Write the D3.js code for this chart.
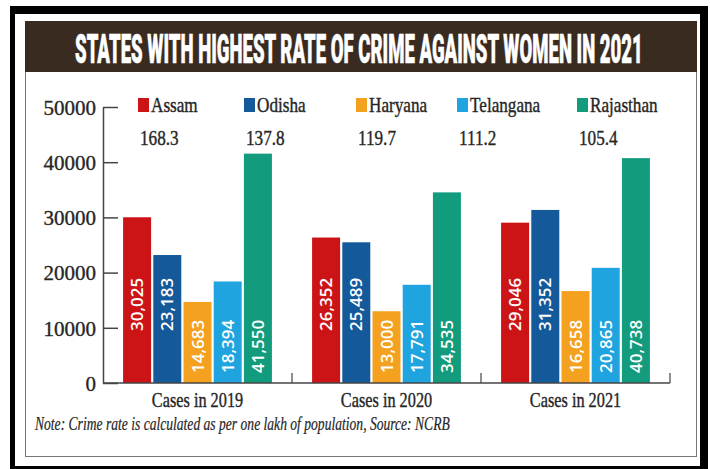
<!DOCTYPE html>
<html>
<head>
<meta charset="utf-8">
<script src="https://cdn.jsdelivr.net/npm/d3@7"></script>
<style>
  html, body { margin: 0; padding: 0; background: #fff; }
  svg { display: block; }
</style>
</head>
<body>
<svg id="chart" width="710" height="469"></svg>
<script>
// ---- data ----
const title = "STATES WITH HIGHEST RATE OF CRIME AGAINST WOMEN IN 2021";
const categories = ["Cases in 2019", "Cases in 2020", "Cases in 2021"];
const states = ["Assam", "Odisha", "Haryana", "Telangana", "Rajasthan"];
const crimeRates = ["168.3", "137.8", "119.7", "111.2", "105.4"];
const assam     = [30025, 26352, 29046];
const odisha    = [23183, 25489, 31352];
const haryana   = [14683, 13000, 16658];
const telangana = [18394, 17791, 20865];
const rajasthan = [41550, 34535, 40738];
const yTicks = [0, 10000, 20000, 30000, 40000, 50000];
const note = "Note: Crime rate is calculated as per one lakh of population, Source: NCRB";

// ---- styles ----
const colors = ["#cc1417", "#14599a", "#f4a11f", "#20a4df", "#129b7c"];
const serif = "'Liberation Serif', 'Times New Roman', serif";
const textColor = "#262626";

const series = [assam, odisha, haryana, telangana, rajasthan];
const svg = d3.select("#chart");

// frame
svg.append("rect").attr("x", 10).attr("y", 6).attr("width", 698).attr("height", 463).attr("fill", "#000");
svg.append("rect").attr("x", 15).attr("y", 14).attr("width", 685).attr("height", 452).attr("fill", "#fff");
svg.append("rect").attr("x", 25.5).attr("y", 21.5).attr("width", 671).attr("height", 435)
  .attr("fill", "none").attr("stroke", "#777").attr("stroke-width", 1);

// title bar
svg.append("rect").attr("x", 25).attr("y", 21).attr("width", 672).attr("height", 51).attr("fill", "#3a2b21");

// text squeezed horizontally to a target width (or by a factor)
function squeezed(parent, x, y, txt, opts = {}) {
  const g = parent.append("g");
  const t = g.append("text")
    .attr("font-family", opts.family || serif)
    .attr("font-size", opts.size || 20)
    .attr("fill", opts.fill || textColor)
    .attr("text-anchor", opts.anchor || "start")
    .text(txt);
  if (opts.italic) t.attr("font-style", "italic");
  if (opts.weight) t.attr("font-weight", opts.weight);
  if (opts.stroke) t.attr("stroke", opts.fill || textColor).attr("stroke-width", opts.stroke);
  let sx = opts.sx || 1;
  if (opts.width) sx = opts.width / t.node().getComputedTextLength();
  g.attr("transform", `translate(${x},${y}) scale(${sx},1)`);
  return t;
}

squeezed(svg, 359, 63, title, {
  family: "Roboto, 'Liberation Sans', sans-serif", weight: 900, size: 40,
  fill: "#fff", anchor: "middle", width: 568, stroke: 0.6
});

// scales
const y = d3.scaleLinear().domain([0, 50000]).range([383, 107]);
const x0 = d3.scaleBand().domain(categories).range([103, 670]).padding(0);
const x1 = d3.scaleBand().domain(states).range([0, x0.bandwidth()])
  .paddingInner(0.073).paddingOuter(0.665);
const color = d3.scaleOrdinal().domain(states).range(colors);

// y axis
const yAxis = svg.append("g").attr("transform", "translate(103,0)")
  .call(d3.axisLeft(y).tickValues(yTicks).tickSize(-15).tickSizeOuter(0).tickPadding(7).tickFormat(d3.format("d")));
yAxis.select(".domain").attr("stroke", "#444").attr("stroke-width", 1.5);
yAxis.selectAll(".tick line").attr("stroke", "#444").attr("stroke-width", 1.5);
yAxis.selectAll(".tick text")
  .attr("font-family", serif).attr("font-size", 21).attr("fill", textColor)
  .attr("stroke", textColor).attr("stroke-width", 0.35)
  .attr("dy", "0.35em");

// bars
const groups = svg.append("g").selectAll("g")
  .data(categories).join("g")
  .attr("transform", d => `translate(${x0(d)},0)`);

const barData = (c, ci) => states.map((s, si) => ({ state: s, cat: c, value: series[si][ci], si }));

groups.selectAll("rect")
  .data((c, ci) => barData(c, ci)).join("rect")
  .attr("x", d => x1(d.state))
  .attr("y", d => y(d.value))
  .attr("width", x1.bandwidth())
  .attr("height", d => y(0) - y(d.value))
  .attr("fill", d => color(d.state));

groups.selectAll("text.val")
  .data((c, ci) => barData(c, ci)).join("text")
  .attr("class", "val")
  .attr("transform", d => {
    const lift = d.si < 2 ? 52 : 10;
    return `translate(${x1(d.state) + x1.bandwidth() / 2},${y(0) - lift}) rotate(-90)`;
  })
  .attr("dy", "0.36em")
  .attr("font-family", "'Open Sans', sans-serif")
  .attr("font-weight", 600)
  .attr("font-size", 17)
  .attr("fill", "#fff")
  .text(d => d3.format(",")(d.value));

// baseline and group ticks
svg.append("line").attr("x1", 103).attr("x2", 670).attr("y1", y(0)).attr("y2", y(0))
  .attr("stroke", "#444").attr("stroke-width", 1.5);
svg.append("g").selectAll("line").data(categories).join("line")
  .attr("x1", d => x0(d) + x0.bandwidth()).attr("x2", d => x0(d) + x0.bandwidth())
  .attr("y1", y(0)).attr("y2", y(0) - 10)
  .attr("stroke", "#444").attr("stroke-width", 1.2);

// category labels
categories.forEach(c => {
  squeezed(svg, x0(c) + x0.bandwidth() / 2, 407, c, { anchor: "middle", size: 22, sx: 0.74, stroke: 0.4 });
});

// legend
const legendX = [138, 244, 356, 457, 577];
states.forEach((s, i) => {
  svg.append("rect").attr("x", legendX[i]).attr("y", 98).attr("width", 11).attr("height", 14)
    .attr("fill", color(s));
  squeezed(svg, legendX[i] + 13, 112, s, { size: 22, sx: 0.78, stroke: 0.4 });
  squeezed(svg, legendX[i] + 2, 145, crimeRates[i], { size: 22, sx: 0.78, stroke: 0.4 });
});

// note
squeezed(svg, 35, 430, note, { italic: true, size: 18, width: 415, stroke: 0.2 });
</script>
</body>
</html>
